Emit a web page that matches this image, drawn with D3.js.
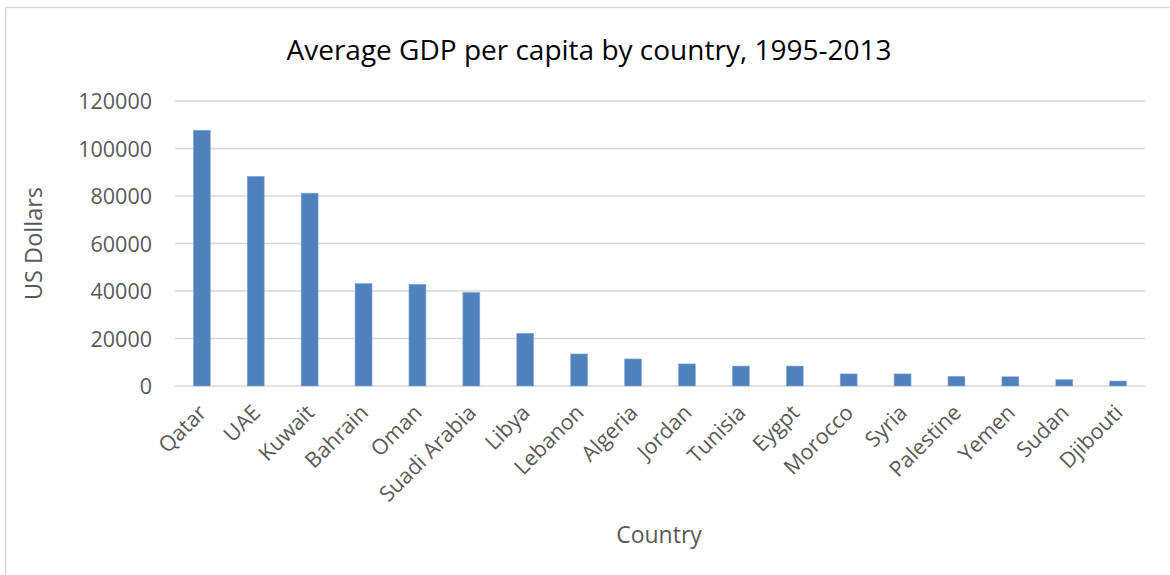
<!DOCTYPE html>
<html>
<head>
<meta charset="utf-8">
<script src="https://cdn.jsdelivr.net/npm/d3@7"></script>
<style>
  body { margin: 0; background: #fff; }
  text { font-family: "Open Sans", sans-serif; }
</style>
</head>
<body>
<div id="chart"></div>
<script>
// Data
var countries = ['Qatar', 'UAE', 'Kuwait', 'Bahrain', 'Oman', 'Suadi Arabia', 'Libya', 'Lebanon',
  'Algeria', 'Jordan', 'Tunisia', 'Eygpt', 'Morocco', 'Syria', 'Palestine', 'Yemen', 'Sudan', 'Djibouti'];
var gdp = [107700, 88300, 81200, 43200, 42800, 39400, 22200, 13500,
  11400, 9300, 8400, 8400, 5100, 5100, 4100, 3900, 2700, 2100];
var yTicks = [0, 20000, 40000, 60000, 80000, 100000, 120000];

// Setup
var width = 1170, height = 575;
var margin = {left: 175, top: 101, right: 25, bottom: 189};
var chart_width = width - margin.left - margin.right;
var chart_height = height - margin.top - margin.bottom;
var textColor = '#595959';

var svg = d3.select('#chart')
  .append('svg')
  .attr('width', width)
  .attr('height', height);

// chart border
svg.append('rect')
  .attr('x', 5.5).attr('y', 7.5)
  .attr('width', width + 10).attr('height', height + 10)
  .attr('fill', 'none')
  .attr('stroke', '#d9d9d9')
  .attr('stroke-width', 1.5);

var g = svg.append('g')
  .attr('transform', 'translate(' + margin.left + ',' + margin.top + ')');

var x = d3.scaleBand()
  .domain(countries)
  .range([0, chart_width])
  .paddingInner(0.685)
  .paddingOuter(0.34);

var y = d3.scaleLinear()
  .domain([0, 120000])
  .range([chart_height, 0]);

// gridlines
g.selectAll('.grid')
  .data(yTicks)
  .enter()
  .append('line')
  .attr('class', 'grid')
  .attr('x1', 0)
  .attr('x2', chart_width)
  .attr('y1', function(d){ return y(d); })
  .attr('y2', function(d){ return y(d); })
  .attr('stroke', '#d9d9d9')
  .attr('stroke-width', 1.5);

// y axis labels
var yAxis = g.append('g')
  .call(d3.axisLeft(y).tickValues(yTicks).tickSize(0).tickPadding(23).tickFormat(d3.format('d')));
yAxis.select('.domain').remove();
yAxis.selectAll('text')
  .attr('fill', textColor)
  .style('font-size', '21.5px')
  .attr('dy', '0.35em');

// bars
g.selectAll('.bar')
  .data(gdp)
  .enter()
  .append('rect')
  .attr('class', 'bar')
  .attr('x', function(d, i){ return x(countries[i]); })
  .attr('y', function(d){ return y(d); })
  .attr('width', x.bandwidth())
  .attr('height', function(d){ return chart_height - y(d); })
  .attr('fill', '#4f81bd')
  .attr('stroke', '#8eaedb')
  .attr('stroke-width', 0.6);

// x axis labels, rotated
var xAxis = g.append('g')
  .attr('transform', 'translate(0,' + chart_height + ')')
  .call(d3.axisBottom(x).tickSize(0).tickPadding(0));
xAxis.select('.domain').remove();
xAxis.selectAll('text')
  .attr('fill', textColor)
  .style('font-size', '21.5px')
  .style('text-anchor', 'end')
  .attr('dy', null)
  .attr('y', 0)
  .attr('transform', 'translate(6,28) rotate(-45)');

// title
svg.append('text')
  .attr('x', 589)
  .attr('y', 60)
  .attr('text-anchor', 'middle')
  .attr('fill', '#000')
  .style('font-size', '28px')
  .text('Average GDP per capita by country, 1995-2013');

// axis titles
svg.append('text')
  .attr('transform', 'translate(42,' + (margin.top + chart_height / 2) + ') rotate(-90)')
  .attr('text-anchor', 'middle')
  .attr('fill', textColor)
  .style('font-size', '23.5px')
  .text('US Dollars');

svg.append('text')
  .attr('x', 659)
  .attr('y', 543)
  .attr('text-anchor', 'middle')
  .attr('fill', textColor)
  .style('font-size', '23px')
  .text('Country');
</script>
</body>
</html>
